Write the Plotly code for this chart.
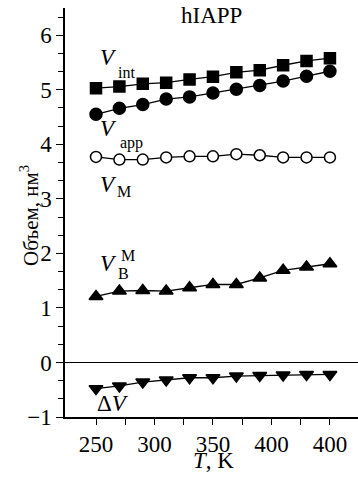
import plotly.graph_objects as go

# ---- data ----
T = [250, 270, 290, 310, 330, 350, 370, 390, 410, 430, 450]
V_int = [5.03, 5.06, 5.11, 5.13, 5.19, 5.24, 5.32, 5.36, 5.45, 5.53, 5.58]
V_app = [4.55, 4.66, 4.73, 4.83, 4.87, 4.94, 5.01, 5.08, 5.16, 5.25, 5.34]
V_M = [3.77, 3.72, 3.72, 3.76, 3.78, 3.78, 3.82, 3.80, 3.76, 3.76, 3.76]
V_BM = [1.21, 1.31, 1.32, 1.31, 1.37, 1.43, 1.43, 1.55, 1.69, 1.75, 1.81]
dV = [-0.48, -0.43, -0.36, -0.32, -0.28, -0.28, -0.25, -0.24, -0.23, -0.22, -0.22]

x_tickvals = [250, 300, 350, 400, 450]
x_ticktext = ["250", "300", "350", "400", "400"]

FONT = "Liberation Serif"

W, H = 358, 477
L, R, TOP, B = 65, 0, 8, 60
PW, PH = W - L - R, H - TOP - B


def px(xp, yp):
    return (xp - L) / PW, (H - B - yp) / PH


fig = go.Figure()

series = [
    (V_int, "square", "black", 11),
    (V_app, "circle", "black", 12),
    (V_M, "circle", "white", 11),
    (V_BM, "triangle-up", "black", 12),
    (dV, "triangle-down", "black", 12),
]
for ys, sym, fill, sz in series:
    fig.add_trace(go.Scatter(
        x=T, y=ys, mode="lines+markers",
        line=dict(color="black", width=1.3),
        marker=dict(symbol=sym, size=sz, color=fill,
                    line=dict(color="black", width=1.5)),
        showlegend=False, cliponaxis=False, hoverinfo="skip",
    ))

ann = []


def add(text, xp, yp, size, italic=False):
    x, y = px(xp, yp)
    t = f"<i>{text}</i>" if italic else text
    ann.append(dict(text=t, x=x, y=y, xref="paper", yref="paper",
                    showarrow=False, xanchor="center", yanchor="middle",
                    font=dict(family=FONT, size=size, color="black")))


add("V", 108, 57, 23, True)
add("int", 126, 72, 16)
add("V", 108, 128, 23, True)
add("app", 131, 143, 16)
add("V", 108, 184, 23, True)
add("M", 124, 191, 16)
add("V", 108, 263, 23, True)
add("M", 128, 255, 16)
add("B", 123, 273, 16)
add("Δ<i>V</i>", 113, 403, 23)
add("hIAPP", 211, 16, 23)
add("<i>T</i>, K", 213, 460, 23)

x, y = px(29, 216)
ann.append(dict(text="Объем, нм<sup>3</sup>", x=x, y=y, xref="paper", yref="paper",
                showarrow=False, textangle=-90, xanchor="center", yanchor="middle",
                font=dict(family=FONT, size=21, color="black")))

fig.update_layout(
    width=W, height=H,
    margin=dict(l=L, r=R, t=TOP, b=B, pad=0),
    paper_bgcolor="white", plot_bgcolor="white",
    font=dict(family=FONT, size=22, color="black"),
    annotations=ann,
)
fig.update_xaxes(
    range=[223.5, 474], tickvals=x_tickvals, ticktext=x_ticktext,
    ticks="outside", ticklen=6, tickwidth=1.3, tickcolor="black",
    showline=True, linecolor="black", linewidth=1.5, mirror=False,
    showgrid=False, zeroline=False,
    minor=dict(tickvals=[275, 325, 375, 425], ticks="outside", ticklen=6,
               tickwidth=1.3, tickcolor="black", showgrid=False),
    tickfont=dict(family=FONT, size=23, color="black"),
)
fig.update_yaxes(
    range=[-1, 6.5], tick0=0, dtick=1,
    ticks="outside", ticklen=7, tickwidth=1.3, tickcolor="black",
    showline=True, linecolor="black", linewidth=1.5, mirror=False,
    showgrid=False, zeroline=True, zerolinecolor="black", zerolinewidth=1.3,
    minor=dict(dtick=1 / 3, tick0=0, ticks="outside", ticklen=5,
               tickwidth=1.3, tickcolor="black", showgrid=False),
    tickfont=dict(family=FONT, size=23, color="black"),
    ticklabelstandoff=0,
)

fig.write_html("out.html", config={"displayModeBar": False},
               post_script="document.body.style.margin='0px';document.body.style.overflow='hidden';")
